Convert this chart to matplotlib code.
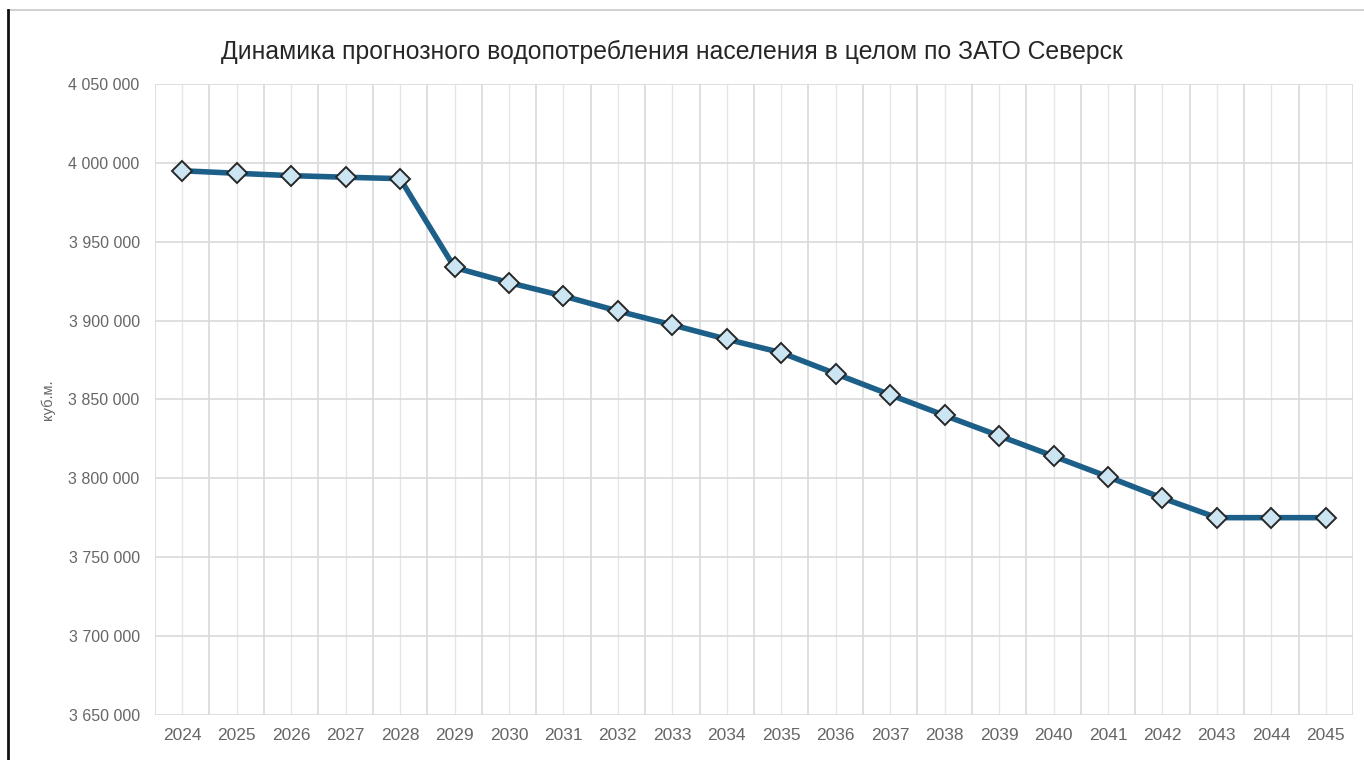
import numpy as np
import matplotlib.pyplot as plt
from matplotlib.ticker import FixedLocator, FuncFormatter, MultipleLocator
from matplotlib.lines import Line2D

years = list(range(2024, 2046))
consumption = [3995000, 3993400, 3991900, 3990900, 3990000, 3933700,
               3924100, 3915600, 3906100, 3897300, 3888200, 3879700,
               3866300, 3853000, 3839900, 3827000, 3814100, 3801000,
               3787500, 3775100, 3775100, 3775100]
title = 'Динамика прогнозного водопотребления населения в целом по ЗАТО Северск'
ylabel = 'куб.м.'

plt.rcParams['font.family'] = ['Liberation Sans', 'DejaVu Sans']

fig = plt.figure(figsize=(13.64, 7.6), dpi=100)
ax = fig.add_axes([155/1364, 1 - 715/760, (1353 - 155)/1364, (715 - 84)/760])

x = np.arange(len(years))
ax.plot(x, consumption, color='#1c6089', linewidth=4.0, solid_joinstyle='round',
        marker='D', markersize=10, markerfacecolor='#cbe5f3',
        markeredgecolor='#262626', markeredgewidth=1.4, zorder=3)

ax.set_xlim(-0.5, len(years) - 0.5)
ax.set_ylim(3650000, 4050000)
ax.yaxis.set_major_locator(MultipleLocator(50000))
ax.yaxis.set_major_formatter(FuncFormatter(lambda v, p: f'{int(v):,}'.replace(',', ' ')))
ax.xaxis.set_major_locator(FixedLocator(x))
ax.set_xticklabels([str(y) for y in years])
ax.xaxis.set_minor_locator(FixedLocator(np.arange(-0.5, len(years), 1.0)))

ax.grid(True, which='major', axis='y', color='#d9d9d9', linewidth=1.2)
ax.grid(True, which='major', axis='x', color='#e6e6e6', linewidth=1.0)
ax.grid(True, which='minor', axis='x', color='#d9d9d9', linewidth=1.2)
ax.tick_params(which='both', length=0)
ax.tick_params(axis='y', labelsize=11.5, labelcolor='#666666', pad=11)
ax.tick_params(axis='x', labelsize=12.5, labelcolor='#666666', pad=9)
for s in ax.spines.values():
    s.set_visible(False)

ax.set_ylabel(ylabel, fontsize=10.5, color='#666666', labelpad=10)
fig.text(672/1364, 1 - 52/760, title, ha='center', va='center', fontsize=17.8, color='#262626')

# frame of the original picture
fig.add_artist(Line2D([8/1364, 1], [1 - 10/760] * 2, color='#c8c8c8', linewidth=1.2))
fig.add_artist(Line2D([8/1364] * 2, [0, 1 - 10/760], color='#111111', linewidth=2))

fig.savefig('out.png', dpi=100)
